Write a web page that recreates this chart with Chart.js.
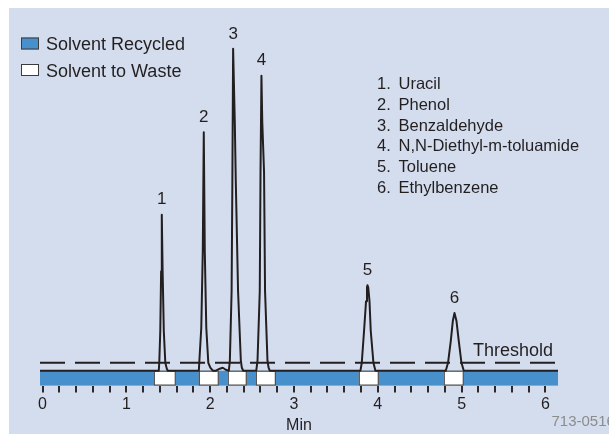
<!DOCTYPE html>
<html><head><meta charset="utf-8">
<script src="https://cdn.jsdelivr.net/npm/chart.js@4"></script>
<style>html,body{margin:0;padding:0;background:#fff;overflow:hidden}</style>
</head><body>
<canvas id="c" width="609" height="434" style="display:block;width:609px;height:434px"></canvas>
<script>
// ---- data ----
const traceTimes = [
  -0.03,
  1.387, 1.393, 1.405, 1.415, 1.423, 1.433, 1.447, 1.465, 1.483, 1.495,
  1.865, 1.870, 1.894, 1.912, 1.924, 1.936, 1.954, 1.978, 2.002, 2.032,
  2.069, 2.115, 2.151, 2.186,
  2.223, 2.235, 2.256, 2.265, 2.274, 2.294, 2.306, 2.333, 2.366, 2.378, 2.395,
  2.550, 2.565, 2.592, 2.601, 2.612, 2.622, 2.643, 2.655, 2.684, 2.697, 2.711,
  3.793, 3.809, 3.836, 3.860, 3.871, 3.877, 3.886, 3.901, 3.916, 3.948, 3.972,
  4.811, 4.838, 4.871, 4.895, 4.915, 4.939, 4.966, 4.998, 5.026,
  6.15
];
const traceSignal = [
  0,
  0, 8, 40, 100, 157, 100, 40, 8, 2, 0,
  0, 8, 43, 120, 240, 120, 43, 8, 3, 0,
  0, 2, 3, 1,
  0, 10, 80, 190, 324, 250, 190, 80, 10, 3, 0,
  0, 10, 80, 200, 297, 250, 200, 80, 10, 3, 0,
  0, 8, 40, 70, 84, 86, 84, 70, 40, 8, 0,
  0, 8, 30, 50, 58, 50, 30, 8, 0,
  0
];
const peakNumbers = ['1', '2', '3', '4', '5', '6'];
const peakTimes = [1.423, 1.924, 2.274, 2.612, 3.877, 4.915];
const peakHeights = [157, 240, 324, 297, 86, 58];
const compounds = ['Uracil', 'Phenol', 'Benzaldehyde', 'N,N-Diethyl-m-toluamide', 'Toluene', 'Ethylbenzene'];
const wasteStart = [1.328, 1.865, 2.210, 2.545, 3.773, 4.787];
const wasteEnd = [1.590, 2.103, 2.437, 2.784, 4.012, 5.026];
const thresholdLevel = 8;
const timeRange = [-0.03, 6.15];
const tickLabels = ['0', '1', '2', '3', '4', '5', '6'];
const legendLabels = ['Solvent Recycled', 'Solvent to Waste'];
const xTitle = 'Min';
const thresholdLabel = 'Threshold';
const figureCode = '713-0516';

// ---- styles ----
const BG = '#d4ddee';
const BLUE = '#4790cb';
const INK = '#231f20';
const FONT = '"Liberation Sans", Arial, Helvetica, sans-serif';
const BAR_DEPTH = 15; // signal units below baseline occupied by the valve bar

const tracePoints = traceTimes.map((t, i) => ({x: t, y: traceSignal[i]}));
const thresholdPoints = timeRange.map(t => ({x: t, y: thresholdLevel}));

const decor = {
  id: 'decor',
  beforeDraw(chart) {
    const c = chart.ctx;
    c.save();
    c.fillStyle = '#ffffff';
    c.fillRect(0, 0, chart.width, chart.height);
    c.fillStyle = BG;
    c.fillRect(9, 8, chart.width - 9, chart.height - 8);
    c.restore();
  },
  beforeDatasetsDraw(chart) {
    const c = chart.ctx, xs = chart.scales.x, ys = chart.scales.y;
    const top = ys.getPixelForValue(0), bot = ys.getPixelForValue(-BAR_DEPTH);
    c.save();
    c.fillStyle = BLUE;
    const x0 = xs.getPixelForValue(timeRange[0]), x1 = xs.getPixelForValue(timeRange[1]);
    c.fillRect(x0, top, x1 - x0, bot - top);
    c.fillStyle = '#ffffff';
    c.strokeStyle = '#4a4a4a';
    c.lineWidth = 1.2;
    for (let i = 0; i < wasteStart.length; i++) {
      const a = xs.getPixelForValue(wasteStart[i]), b = xs.getPixelForValue(wasteEnd[i]);
      c.fillRect(a, top, b - a, bot - top);
      c.strokeRect(a + 0.5, top + 0.5, b - a - 1, bot - top - 1);
    }
    c.restore();
  },
  afterDraw(chart) {
    const c = chart.ctx, xs = chart.scales.x, ys = chart.scales.y;
    c.save();
    c.fillStyle = INK;
    // peak numbers
    c.font = '17px ' + FONT;
    c.textAlign = 'center';
    c.textBaseline = 'middle';
    for (let i = 0; i < peakNumbers.length; i++) {
      c.fillText(peakNumbers[i], xs.getPixelForValue(peakTimes[i]), ys.getPixelForValue(peakHeights[i]) - 15);
    }
    // legend
    c.textAlign = 'left';
    c.textBaseline = 'alphabetic';
    c.font = '18px ' + FONT;
    const fills = [BLUE, '#ffffff'];
    for (let i = 0; i < legendLabels.length; i++) {
      const y = 37.5 + i * 26.5;
      c.fillStyle = fills[i];
      c.fillRect(21, y, 18, 12);
      c.strokeStyle = '#3c3c3c';
      c.lineWidth = 1;
      c.strokeRect(21.5, y + 0.5, 17, 11);
      c.fillStyle = INK;
      c.fillText(legendLabels[i], 46, y + 12.5);
    }
    // compound list
    c.font = '16.5px ' + FONT;
    for (let i = 0; i < compounds.length; i++) {
      const y = 89.3 + i * 20.7;
      c.fillText(peakNumbers[i] + '.', 377, y);
      c.fillText(compounds[i], 398.5, y);
    }
    // threshold label
    c.font = '18px ' + FONT;
    c.fillText(thresholdLabel, 473, ys.getPixelForValue(thresholdLevel) - 7);
    // figure code
    c.font = '15px ' + FONT;
    c.fillStyle = '#8c8c8c';
    c.fillText(figureCode, 551.5, 426);
    c.restore();
  }
};

new Chart(document.getElementById('c'), {
  type: 'line',
  data: {
    datasets: [
      {label: 'Chromatogram', data: tracePoints, borderColor: INK, borderWidth: 2,
       pointRadius: 0, tension: 0, fill: false, borderJoinStyle: 'round', order: 0},
      {label: 'Threshold', data: thresholdPoints, borderColor: INK, borderWidth: 2,
       borderDash: [25, 10], pointRadius: 0, fill: false, order: 1}
    ]
  },
  options: {
    responsive: false,
    devicePixelRatio: 1,
    animation: false,
    events: [],
    layout: {padding: {left: 40, right: 51, top: 23, bottom: -1}},
    plugins: {legend: {display: false}, tooltip: {enabled: false}, title: {display: false}},
    scales: {
      x: {
        type: 'linear', min: timeRange[0], max: timeRange[1], position: 'bottom',
        border: {display: false},
        grid: {drawOnChartArea: false, drawTicks: true, tickLength: 7, color: '#2a2a2a', lineWidth: 2},
        ticks: {
          stepSize: 0.2, autoSkip: false, maxRotation: 0, minRotation: 0, includeBounds: false,
          padding: 2, color: INK, font: {family: FONT, size: 16},
          callback: (v) => { const r = Math.round(v); return Math.abs(v - r) < 1e-6 ? tickLabels[r] : ''; }
        },
        title: {display: true, text: xTitle, color: INK, font: {family: FONT, size: 16}, padding: {top: 0, bottom: 0}}
      },
      y: {type: 'linear', display: false, min: -BAR_DEPTH, max: 350}
    }
  },
  plugins: [decor]
});
</script>
</body></html>
